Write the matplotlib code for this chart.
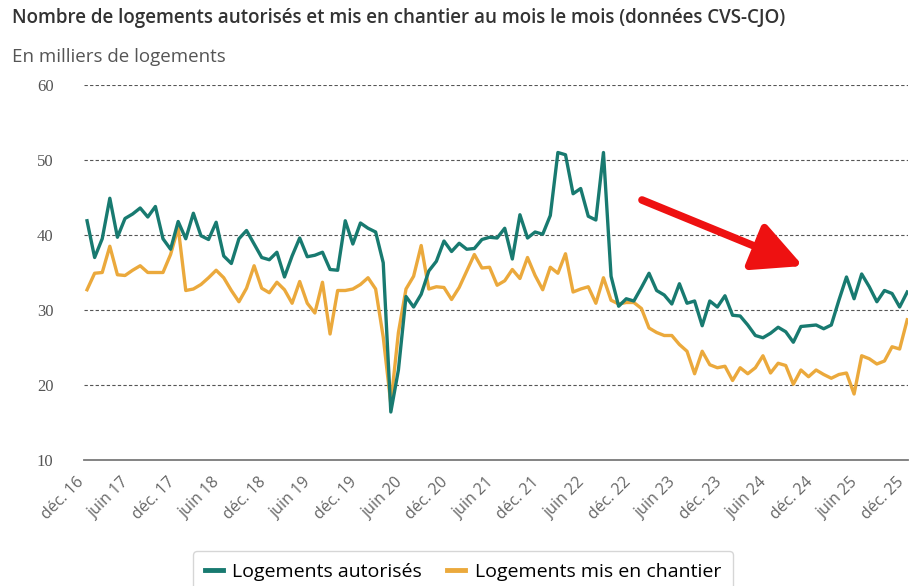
import matplotlib
matplotlib.use("Agg")
import matplotlib.pyplot as plt

# monthly series, dec. 2016 -> dec. 2025 (thousands of dwellings)
autorises = [41.9, 37.0, 39.5, 44.9, 39.7, 42.2, 42.8, 43.6, 42.4, 43.8, 39.5, 38.1,
             41.8, 39.5, 42.9, 39.9, 39.4, 41.7, 37.2, 36.2, 39.5, 40.6, 38.8, 37.0,
             36.7, 37.7, 34.4, 37.2, 39.6, 37.1, 37.3, 37.7, 35.4, 35.3, 41.9, 38.8,
             41.6, 40.9, 40.4, 36.3, 16.4, 22.0, 31.8, 30.4, 32.1, 35.2, 36.5, 39.2,
             37.8, 38.9, 38.1, 38.2, 39.4, 39.7, 39.6, 40.9, 36.8, 42.7, 39.6, 40.4,
             40.1, 42.6, 51.0, 50.7, 45.5, 46.2, 42.5, 42.0, 51.0, 34.5, 30.5, 31.5,
             31.2, 33.0, 34.9, 32.6, 32.0, 30.8, 33.5, 30.9, 31.2, 27.9, 31.2, 30.4,
             31.9, 29.3, 29.2, 28.0, 26.6, 26.3, 26.9, 27.7, 27.1, 25.7, 27.8, 27.9,
             28.0, 27.5, 28.0, 31.3, 34.4, 31.5, 34.8, 33.1, 31.1, 32.6, 32.2, 30.4,
             32.4]
chantier = [32.7, 34.9, 35.0, 38.5, 34.7, 34.6, 35.3, 35.9, 35.0, 35.0, 35.0, 37.4,
            41.0, 32.6, 32.8, 33.4, 34.3, 35.3, 34.3, 32.6, 31.1, 32.9, 35.9, 32.9,
            32.3, 33.7, 32.7, 30.9, 33.8, 30.9, 29.6, 33.7, 26.8, 32.6, 32.6, 32.8,
            33.4, 34.3, 32.8, 26.4, 17.5, 27.0, 32.8, 34.5, 38.6, 32.8, 33.1, 33.0,
            31.4, 33.0, 35.2, 37.4, 35.6, 35.7, 33.3, 33.9, 35.4, 34.2, 37.0, 34.6,
            32.7, 35.7, 34.9, 37.5, 32.4, 32.8, 33.1, 30.9, 34.3, 31.3, 30.8, 31.0,
            31.0, 30.2, 27.6, 27.0, 26.6, 26.6, 25.4, 24.5, 21.5, 24.5, 22.7, 22.3,
            22.5, 20.6, 22.3, 21.5, 22.3, 23.9, 21.6, 22.9, 22.6, 20.1, 22.0, 21.1,
            22.0, 21.4, 20.9, 21.4, 21.6, 18.8, 23.9, 23.5, 22.8, 23.2, 25.1, 24.8,
            28.7]
tick_labels = ["déc. 16", "juin 17", "déc. 17", "juin 18", "déc. 18", "juin 19",
               "déc. 19", "juin 20", "déc. 20", "juin 21", "déc. 21", "juin 22",
               "déc. 22", "juin 23", "déc. 23", "juin 24", "déc. 24", "juin 25",
               "déc. 25"]

teal = "#187a70"
orange = "#eba93c"
months = list(range(len(autorises)))

fig = plt.figure(figsize=(9.11, 5.86), dpi=100)
ax = fig.add_axes([84/911, 1-460/586, (908-84)/911, (460-85)/586])

ax.plot(months, autorises, color=teal, lw=2.4, label="Logements autorisés", zorder=3)
ax.plot(months, chantier, color=orange, lw=2.4, label="Logements mis en chantier", zorder=2)

ax.set_ylim(10, 60)
ax.set_xlim(-0.4, 108.1)
ax.set_yticks([10, 20, 30, 40, 50, 60])
for v in [20, 30, 40, 50, 60]:
    ax.axhline(v, color="#555555", lw=0.8, ls=(0, (3, 2)), zorder=1)

for s in ["top", "right", "left"]:
    ax.spines[s].set_visible(False)
ax.spines["bottom"].set_color("#7a7a7a")
ax.spines["bottom"].set_linewidth(1.3)

ax.set_xticks(range(0, 109, 6))
ax.set_xticklabels(tick_labels, rotation=45, ha="right", va="bottom",
                   rotation_mode="anchor", fontsize=11.5, color="#666666",
                   family="Open Sans")
ax.tick_params(axis="x", length=0, pad=18)
ax.tick_params(axis="y", length=0, pad=22, labelsize=12, labelcolor="#555555")
for t in ax.get_yticklabels():
    t.set_family("Liberation Serif")

fig.text(12/911, 1-18/586, "Nombre de logements autorisés et mis en chantier au mois le mois (données CVS-CJO)",
         fontsize=13.5, color="#333333", family="Open Sans", weight="semibold", va="center")
fig.text(12/911, 1-57/586, "En milliers de logements",
         fontsize=13.5, color="#555555", family="Open Sans", va="center")

leg = fig.legend(loc="center", bbox_to_anchor=(463/911, 1-572/586), ncol=2,
                 frameon=True, handlelength=0.9, handletextpad=0.5,
                 columnspacing=1.3, borderpad=0.6, fancybox=True,
                 prop={"family": "Open Sans", "size": 14})
leg.get_frame().set_edgecolor("#cccccc")
for line in leg.get_lines():
    line.set_linewidth(3.5)

# red arrow annotation
ax.annotate("", xy=(803, 586-266), xytext=(642, 586-200), xycoords="figure pixels",
            textcoords="figure pixels",
            arrowprops=dict(arrowstyle="-|>,head_length=1.5,head_width=0.75",
                            color="#ee1111", lw=5.5, shrinkA=0, shrinkB=0,
                            mutation_scale=20))

fig.savefig("out.png", dpi=100)
